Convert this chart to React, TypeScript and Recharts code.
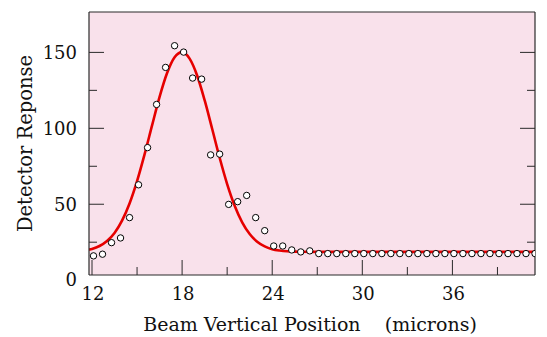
import React from 'react';
import { ComposedChart, Line, Scatter, XAxis, YAxis, CartesianGrid } from 'recharts';

// measured points
const positions = [
  12.1, 12.7, 13.3, 13.9, 14.5, 15.1, 15.7, 16.3, 16.9, 17.5,
  18.1, 18.7, 19.3, 19.9, 20.5, 21.1, 21.7, 22.3, 22.9, 23.5,
  24.1, 24.7, 25.3, 25.9, 26.5, 27.1, 27.7, 28.3, 28.9, 29.5,
  30.1, 30.7, 31.3, 31.9, 32.5, 33.1, 33.7, 34.3, 34.9, 35.5,
  36.1, 36.7, 37.3, 37.9, 38.5, 39.1, 39.7, 40.3, 40.9, 41.5,
];
const responses = [
  16.0, 17.1, 24.7, 27.8, 41.2, 62.8, 87.3, 115.7, 140.1, 154.4,
  150.2, 133.1, 132.4, 82.5, 83.0, 49.9, 51.7, 55.8, 41.2, 32.6,
  22.5, 22.5, 19.9, 18.6, 19.3, 17.5, 17.5, 17.5, 17.5, 17.5,
  17.5, 17.5, 17.5, 17.5, 17.5, 17.5, 17.5, 17.5, 17.5, 17.5,
  17.5, 17.5, 17.5, 17.5, 17.5, 17.5, 17.5, 17.5, 17.5, 17.5,
];

// fitted curve
const fitX = [
  11.8, 12, 12.5, 13, 13.5, 14, 14.5, 15, 15.5, 16, 16.5, 17, 17.5, 18,
  18.5, 19, 19.5, 20, 20.5, 21, 21.5, 22, 22.5, 23, 23.5, 24, 24.5, 25,
  25.5, 26, 27, 30, 35, 41.5,
];
const fitY = [
  20.1, 20.6, 22.5, 25.8, 31.1, 39.2, 50.5, 65.2, 82.8, 101.9, 120.7, 136.4, 146.8, 150.2,
  145.9, 134.8, 118.5, 99.7, 80.6, 63.3, 49.0, 38.1, 30.4, 25.3, 22.2, 20.4, 19.5, 19.0,
  18.8, 18.7, 18.6, 18.6, 18.6, 18.6,
];

const xTicks = [12, 15, 18, 21, 24, 27, 30, 33, 36, 39];
const yTicks = [0, 25, 50, 75, 100, 125, 150];

const points = positions.map((x, i) => ({ x, y: responses[i] }));
const fit = fitX.map((x, i) => ({ x, y: fitY[i] }));

const FONT = 'DejaVu Serif';
const INK = '#2a2a2a';
const xMajor = (v: number) => (v - 12) % 6 === 0;
const yMajor = (v: number) => v % 50 === 0;

const BottomTick = ({ x, y, payload }: any) => {
  const v = payload.value;
  const len = xMajor(v) ? 15 : 8;
  return (
    <g>
      <line x1={x} y1={y} x2={x} y2={y - len} stroke={INK} />
      {xMajor(v) && (
        <text x={x + 1} y={y + 25} textAnchor="middle" fontFamily={FONT} fontSize={18} fill="#111">
          {v}
        </text>
      )}
    </g>
  );
};

const TopTick = ({ x, y, payload }: any) => {
  const len = xMajor(payload.value) ? 15 : 8;
  return <line x1={x} y1={y} x2={x} y2={y + len} stroke={INK} />;
};

const LeftTick = ({ x, y, payload }: any) => {
  const v = payload.value;
  const len = yMajor(v) ? 15 : 8;
  return (
    <g>
      {v !== 0 && <line x1={x} y1={y} x2={x + len} y2={y} stroke={INK} />}
      {yMajor(v) && (
        <text x={x - 12} y={y} dy="0.35em" textAnchor="end" fontFamily={FONT} fontSize={18} fill="#111">
          {v}
        </text>
      )}
    </g>
  );
};

const RightTick = ({ x, y, payload }: any) => {
  const v = payload.value;
  if (v === 0) return <g />;
  const len = yMajor(v) ? 15 : 8;
  return <line x1={x} y1={y} x2={x - len} y2={y} stroke={INK} />;
};

const YTitle = ({ viewBox }: any) => {
  const cx = 31.5;
  const cy = viewBox.y + viewBox.height / 2;
  return (
    <text x={cx} y={cy} transform={`rotate(-90 ${cx} ${cy})`} textAnchor="middle"
      fontFamily={FONT} fontSize={19.5} fill="#111">
      Detector Reponse
    </text>
  );
};

const XTitle = ({ viewBox }: any) => {
  const cx = viewBox.x + viewBox.width / 2 - 2;
  return (
    <text x={cx} y={331} textAnchor="middle" fontFamily={FONT} fontSize={19} fill="#111"
      style={{ whiteSpace: 'pre' }}>
      {'Beam Vertical Position    (microns)'}
    </text>
  );
};

const Dot = ({ cx, cy }: any) => (
  <circle cx={cx} cy={cy} r={3.2} fill="#fff" stroke="#000" strokeWidth={1} />
);

export default function App() {
  return (
    <div style={{ position: 'absolute', left: 0, top: 0 }}>
      <ComposedChart width={547} height={337} margin={{ top: 0, right: 0, bottom: 0, left: 0 }}>
        <CartesianGrid xAxisId="b" yAxisId="l" horizontal={false} vertical={false} fill="#f9e1eb" stroke="none" />
        <XAxis
          xAxisId="b"
          type="number"
          dataKey="x"
          domain={[11.8, 41.5]}
          ticks={xTicks}
          interval={0}
          allowDataOverflow
          height={62}
          axisLine={{ stroke: INK, strokeWidth: 1.2 }}
          tickLine={false}
          tickSize={0}
          tickMargin={0}
          tick={<BottomTick />}
          label={<XTitle />}
        />
        <XAxis
          xAxisId="t"
          orientation="top"
          type="number"
          domain={[11.8, 41.5]}
          ticks={xTicks}
          interval={0}
          allowDataOverflow
          height={12}
          axisLine={{ stroke: INK, strokeWidth: 1.2 }}
          tickLine={false}
          tickSize={0}
          tickMargin={0}
          tick={<TopTick />}
        />
        <YAxis
          yAxisId="l"
          type="number"
          dataKey="y"
          domain={[3.4, 176.6]}
          ticks={yTicks}
          interval={0}
          allowDataOverflow
          width={89}
          axisLine={{ stroke: INK, strokeWidth: 1.2 }}
          tickLine={false}
          tickSize={0}
          tickMargin={0}
          tick={<LeftTick />}
          label={<YTitle />}
        />
        <YAxis
          yAxisId="r"
          orientation="right"
          type="number"
          domain={[3.4, 176.6]}
          ticks={yTicks}
          interval={0}
          allowDataOverflow
          width={12}
          axisLine={{ stroke: INK, strokeWidth: 1.2 }}
          tickLine={false}
          tickSize={0}
          tickMargin={0}
          tick={<RightTick />}
        />
        <Line
          xAxisId="b"
          yAxisId="l"
          data={fit}
          dataKey="y"
          type="monotone"
          stroke="#e60000"
          strokeWidth={2.6}
          dot={false}
          activeDot={false}
          isAnimationActive={false}
        />
        <Scatter
          xAxisId="b"
          yAxisId="l"
          data={points}
          dataKey="y"
          shape={<Dot />}
          isAnimationActive={false}
        />
      </ComposedChart>
    </div>
  );
}
